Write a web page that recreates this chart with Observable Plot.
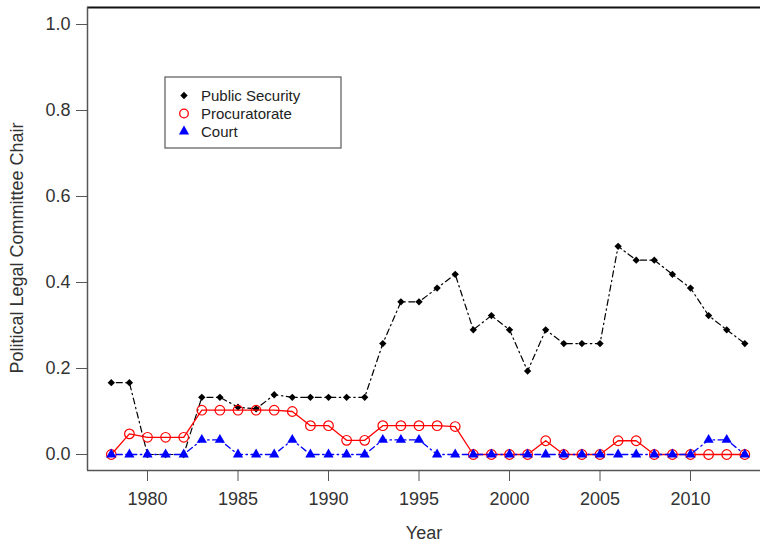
<!DOCTYPE html>
<html><head><meta charset="utf-8">
<script src="https://cdn.jsdelivr.net/npm/d3@7"></script>
<script src="https://cdn.jsdelivr.net/npm/@observablehq/plot@0.6"></script>
<style>body{margin:0;background:#fff}</style>
</head><body><div id="chart"></div>
<script>
const years = [1978,1979,1980,1981,1982,1983,1984,1985,1986,1987,1988,1989,1990,1991,1992,1993,1994,1995,1996,1997,1998,1999,2000,2001,2002,2003,2004,2005,2006,2007,2008,2009,2010,2011,2012,2013];
const publicSecurity = [0.167,0.167,0,0,0,0.133,0.133,0.110,0.106,0.139,0.133,0.133,0.133,0.133,0.133,0.258,0.355,0.355,0.387,0.419,0.290,0.323,0.290,0.194,0.290,0.258,0.258,0.258,0.484,0.452,0.452,0.419,0.387,0.323,0.290,0.258];
const procuratorate = [0,0.048,0.040,0.040,0.040,0.103,0.103,0.103,0.103,0.103,0.100,0.067,0.067,0.033,0.033,0.067,0.067,0.067,0.067,0.065,0,0,0,0,0.032,0,0,0,0.032,0.032,0,0,0,0,0,0];
const court = [0,0,0,0,0,0.034,0.034,0,0,0,0.034,0,0,0,0,0.034,0.034,0.034,0,0,0,0,0,0,0,0,0,0,0,0,0,0,0,0.034,0.034,0];
const xTicks = [1980,1985,1990,1995,2000,2005,2010];
const yTicks = [0,0.2,0.4,0.6,0.8,1.0];
const seriesNames = ["Public Security","Procuratorate","Court"];
const xLabel = "Year";
const yLabel = "Political Legal Committee Chair";

const rows = years.map((year,i)=>({year, ps: publicSecurity[i], pr: procuratorate[i], ct: court[i]}));
const font = "'Liberation Sans', Arial, Helvetica, sans-serif";
const xDomain = [1976.685, 2013.867];
const yDomain = [-0.0372, 1.0395];
const dash = "1.5,3.5,6,3.5";

const plot = Plot.plot({
  width: 760, height: 544,
  marginLeft: 87, marginRight: 0, marginTop: 7, marginBottom: 74,
  style: {fontFamily: font, fontSize: "18px", color: "#333", background: "white"},
  x: {domain: xDomain},
  y: {domain: yDomain},
  marks: [
    Plot.axisX({ticks: xTicks, tickFormat: d => String(d), tickSize: 11, tickPadding: 11, stroke: "#555", label: null, fontSize: 18}),
    Plot.axisY({ticks: yTicks, tickFormat: d => d.toFixed(1), tickSize: 11, tickPadding: 6, stroke: "#555", label: null, fontSize: 18}),
    Plot.ruleY([yDomain[1]], {stroke: "#111", strokeWidth: 2}),
    Plot.ruleY([yDomain[0]], {stroke: "#555", strokeWidth: 1.5}),
    Plot.ruleX([xDomain[0]], {stroke: "#555", strokeWidth: 1.5}),
    Plot.line(rows, {x: "year", y: "ps", stroke: "black", strokeWidth: 1.2, strokeDasharray: dash}),
    Plot.dot(rows, {x: "year", y: "ps", symbol: "diamond2", fill: "black", r: 3.3}),
    Plot.line(rows, {x: "year", y: "pr", stroke: "red", strokeWidth: 1.3}),
    Plot.dot(rows, {x: "year", y: "pr", r: 4.8, stroke: "red", fill: "none", strokeWidth: 1.2}),
    Plot.line(rows, {x: "year", y: "ct", stroke: "blue", strokeWidth: 1.3, strokeDasharray: dash}),
    Plot.dot(rows, {x: "year", y: "ct", symbol: "triangle", fill: "blue", r: 3.8}),
    Plot.text([xLabel], {text: d => d, frameAnchor: "bottom", lineAnchor: "middle", textAnchor: "middle", dy: 63, fontSize: 18, fill: "#333"}),
    Plot.text([yLabel], {text: d => d, frameAnchor: "left", lineAnchor: "middle", textAnchor: "middle", rotate: -90, dx: -70, dy: 9, fontSize: 18, fill: "#333"})
  ]
});

const svg = d3.select(plot);
const lg = svg.append("g").attr("font-family", font).attr("font-size", 15).attr("text-anchor", "start");
lg.append("rect").attr("x", 165).attr("y", 77).attr("width", 176).attr("height", 71)
  .attr("fill", "white").attr("stroke", "#666").attr("stroke-width", 1.3);
const ly = [95.5, 113.5, 131.5];
lg.append("path").attr("d", d3.symbol(d3.symbolDiamond2, Math.PI*3.3*3.3)()).attr("transform", `translate(184,${ly[0]})`).attr("fill", "black");
lg.append("circle").attr("cx", 184).attr("cy", ly[1]).attr("r", 4.3).attr("fill", "none").attr("stroke", "red").attr("stroke-width", 1.3);
lg.append("path").attr("d", d3.symbol(d3.symbolTriangle, Math.PI*3.8*3.8)()).attr("transform", `translate(184,${ly[2]})`).attr("fill", "blue");
seriesNames.forEach((n, i) => {
  lg.append("text").attr("x", 201).attr("y", ly[i]).attr("dy", "0.35em").attr("text-anchor", "start").attr("fill", "#222").text(n);
});

document.getElementById("chart").appendChild(plot);
</script>
</body></html>
